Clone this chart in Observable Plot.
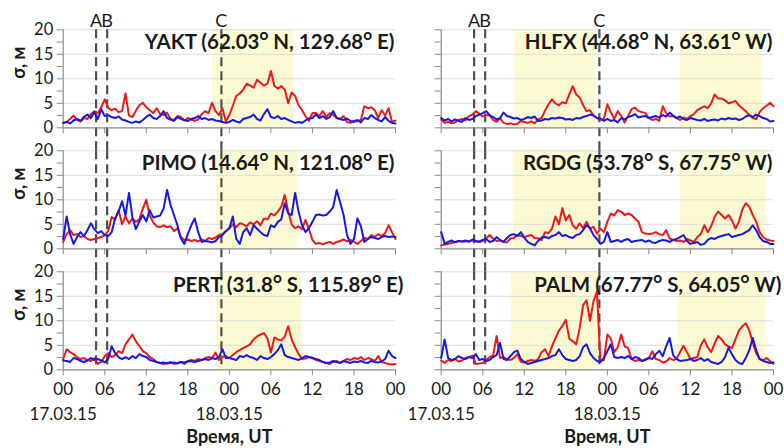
<!DOCTYPE html>
<html><head><meta charset="utf-8">
<script src="https://cdn.jsdelivr.net/npm/d3@7"></script>
<script src="https://cdn.jsdelivr.net/npm/@observablehq/plot@0.6"></script>
<style>
html,body{margin:0;padding:0;background:#fff;}
#chart{width:784px;height:448px;overflow:hidden;}
</style></head><body><div id="chart"></div>
<script>
// sampling grid, hours since 17.03.15 00 UT
const hours = d3.range(0, 48.001, 0.5);

const stations = ["YAKT", "HLFX", "PIMO", "RGDG", "PERT", "PALM"];
const titles = [
  "YAKT (62.03ᴼ N, 129.68ᴼ E)",
  "HLFX (44.68ᴼ N, 63.61ᴼ W)",
  "PIMO (14.64ᴼ N, 121.08ᴼ E)",
  "RGDG (53.78ᴼ S, 67.75ᴼ W)",
  "PERT (31.8ᴼ S, 115.89ᴼ E)",
  "PALM (67.77ᴼ S, 64.05ᴼ W)"
];

const yaktRed = [1.0,1.2,1.8,2.5,1.6,1.3,2.0,1.8,2.8,3.4, 3.0,4.2,5.8,4.0,3.6,3.9,3.2,3.4,7.0,2.5, 2.2,3.5,4.6,5.1,4.2,3.6,3.0,4.0,2.8,2.6, 3.1,1.8,1.6,2.4,2.2,1.5,2.0,1.7,1.4,1.7, 2.8,3.4,3.0,5.1,3.4,2.6,4.0,1.3,2.6,4.5, 6.5,7.0,7.8,9.0,8.6,8.2,9.8,9.2,8.6,9.0, 11.6,8.6,8.0,8.5,7.8,5.0,7.2,6.5,4.6,3.6, 2.4,1.4,3.0,3.0,2.4,3.4,2.2,3.0,2.6,2.0, 1.8,2.4,1.2,1.0,1.5,1.3,1.6,4.4,4.0,4.2, 3.6,2.0,3.6,2.5,4.0,1.2,1.5];
const yaktBlue = [1.0,1.2,0.9,1.5,1.8,1.4,2.2,2.7,2.0,3.2, 1.8,3.8,2.4,2.6,2.2,2.0,2.3,1.7,1.5,1.2, 1.0,1.3,1.1,1.6,2.2,2.7,2.0,1.8,2.4,3.4, 2.0,1.7,1.4,2.2,1.8,1.6,1.4,1.8,2.0,2.4, 1.8,2.0,1.6,1.8,1.5,1.4,1.2,1.0,1.2,1.6, 1.3,1.1,1.8,2.0,2.2,2.7,1.8,1.5,2.8,3.8, 2.2,2.0,2.4,1.8,2.0,1.6,1.3,1.0,1.2,1.0, 1.5,1.9,2.0,2.7,2.0,2.4,1.8,2.2,3.4,2.0, 1.8,1.6,1.9,1.4,1.2,1.6,1.1,2.0,1.8,2.6, 2.0,1.6,1.3,2.2,1.4,1.0,0.9];
const hlfxRed = [1.7,1.0,1.2,0.9,1.1,1.6,1.8,1.5,2.4,2.7, 3.4,2.9,2.3,2.6,2.5,1.6,1.2,2.0,1.0,0.8, 0.9,0.7,0.8,1.4,1.2,1.0,1.3,0.9,1.7,2.0, 3.5,4.8,5.8,5.0,4.6,5.2,5.0,6.8,8.5,6.8, 6.2,4.6,3.4,3.6,2.5,2.0,1.6,1.8,4.8,3.2, 1.8,3.4,2.4,1.1,2.4,3.8,4.1,3.4,3.2,3.0, 2.0,1.6,1.8,1.4,4.4,3.0,2.3,2.4,2.0,1.6, 2.1,1.8,2.4,2.8,3.6,4.0,4.4,4.0,5.0,6.8, 6.0,6.0,5.6,5.0,5.2,5.5,4.6,4.0,3.4,2.6, 2.0,1.8,3.2,4.0,4.5,5.1,4.4];
const hlfxBlue = [2.0,1.5,1.8,1.3,1.7,1.4,1.2,2.0,1.6,1.8, 2.4,2.7,3.0,3.4,2.6,2.2,1.7,2.0,3.1,2.4, 2.2,1.9,2.0,1.6,1.8,2.2,2.0,2.3,1.4,1.5, 1.8,1.7,2.0,1.9,2.1,2.0,1.7,1.8,1.6,2.0, 1.9,2.2,2.4,2.7,2.5,2.0,1.9,1.4,1.8,1.4, 1.6,1.1,2.0,1.7,2.2,2.4,2.8,2.1,2.3,2.4, 2.0,2.2,2.4,2.1,2.6,2.3,3.1,2.5,2.0,2.3, 1.8,1.6,2.0,1.8,1.6,1.5,1.8,1.4,1.6,1.7, 1.5,1.9,1.7,2.0,1.8,1.9,1.6,1.8,2.3,2.6, 2.2,2.7,2.4,2.0,1.8,1.3,1.4];
const pimoRed = [1.4,3.0,3.8,2.8,3.0,2.4,2.6,2.0,1.8,2.0, 2.2,2.4,2.8,3.6,6.5,6.0,7.9,5.0,6.6,5.2, 6.2,5.5,6.0,8.2,10.0,6.8,5.4,4.6,4.4,4.8, 4.4,4.6,3.6,4.2,2.4,1.8,1.9,1.6,1.8,1.5, 1.9,1.6,2.2,2.0,2.3,2.8,3.0,3.6,4.2,5.0, 4.4,5.2,5.0,4.6,5.4,5.0,5.6,4.8,6.2,6.0, 7.2,6.8,7.6,8.6,11.0,7.6,5.0,4.2,4.6,4.0, 5.9,4.0,1.8,1.0,1.2,0.9,1.2,1.4,1.0,1.4, 1.6,1.9,1.5,1.8,1.4,1.0,1.6,2.2,2.0,2.8, 2.4,3.0,2.6,3.2,4.8,3.4,2.0];
const pimoBlue = [2.0,6.6,3.0,1.0,2.4,3.4,2.6,3.8,5.2,4.0, 3.2,3.6,2.8,2.6,3.4,6.2,7.6,9.7,6.8,11.4, 6.4,4.0,5.6,6.9,5.6,7.9,6.4,6.6,6.8,8.2, 12.0,9.0,6.9,4.8,2.1,1.0,3.0,4.8,6.2,3.4, 1.4,1.6,1.5,1.3,1.6,2.4,2.8,3.6,4.2,6.6, 2.0,1.0,3.4,4.2,2.8,4.8,4.1,3.4,2.8,2.6, 4.8,4.4,5.5,6.0,9.3,7.2,6.9,11.4,7.6,4.8, 3.4,4.2,5.5,6.9,7.0,6.8,6.9,7.6,8.5,12.0, 9.5,6.9,2.8,1.0,2.0,6.2,4.6,1.4,2.0,2.4, 2.2,2.0,2.4,2.6,2.4,2.5,2.4];
const rgdgRed = [0.7,0.9,1.0,1.2,1.4,1.6,1.5,1.5,1.6,1.7, 1.5,1.4,1.6,2.1,2.8,2.1,1.6,1.7,1.4,1.3, 2.1,2.2,2.8,2.6,2.4,2.6,2.8,2.2,2.1,1.8, 3.4,3.2,4.1,6.6,5.0,8.3,5.8,6.9,4.8,4.1, 5.2,4.2,5.5,4.1,4.5,3.1,4.1,3.4,5.5,7.2, 6.8,7.9,7.6,6.9,7.2,6.9,6.2,5.5,3.4,3.1, 3.0,3.1,3.4,3.0,2.8,3.8,2.1,1.8,1.6,1.7, 1.4,2.0,1.7,1.4,2.4,3.0,4.8,3.4,4.6,6.5, 7.6,6.9,6.2,6.9,5.8,4.1,5.5,8.0,9.3,8.6, 6.9,5.5,3.4,2.4,1.9,1.7,1.6];
const rgdgBlue = [3.4,1.0,1.4,1.7,1.3,1.6,1.5,1.7,1.4,1.9, 1.6,1.5,1.8,2.0,1.4,1.6,2.4,1.8,1.4,2.2, 2.8,3.0,2.6,3.4,2.3,1.4,1.0,0.7,1.6,2.3, 2.4,2.2,2.6,2.8,3.4,2.6,2.8,2.4,2.2,2.8, 3.0,3.8,4.8,4.2,2.8,2.0,1.0,1.4,3.4,1.4, 1.6,1.8,1.4,1.8,2.0,1.4,1.6,1.7,1.8,1.4, 1.7,1.3,1.2,1.6,1.8,1.7,1.4,1.8,2.0,2.4, 2.8,1.6,1.0,1.2,1.4,0.8,1.0,1.8,2.2,2.0, 2.4,2.6,2.8,3.0,2.4,2.6,2.8,3.0,3.4,3.8, 4.8,3.8,2.4,1.6,1.4,1.0,1.0];
const pertRed = [2.2,4.2,3.6,3.2,2.6,2.2,2.4,2.0,1.8,2.4, 1.2,1.6,2.8,3.4,2.6,3.0,3.8,3.4,5.2,6.2, 7.2,5.8,4.8,3.8,3.4,2.6,2.2,1.6,1.4,1.2, 1.4,1.6,1.2,1.4,1.6,1.2,1.8,2.0,1.8,2.2, 2.0,2.4,2.6,2.4,3.5,2.0,2.6,2.8,2.4,3.0, 3.6,4.0,4.4,4.8,5.2,6.2,6.8,7.2,7.5,6.4, 3.5,6.6,6.2,6.0,6.8,8.9,6.2,4.6,3.2,2.2, 2.3,2.6,2.4,2.0,1.8,1.6,1.4,1.2,1.6,1.8, 1.4,1.8,2.2,2.0,2.4,2.2,2.6,2.0,2.4,2.2, 1.8,2.8,1.6,1.4,1.2,1.1,1.2];
const pertBlue = [1.9,1.8,1.6,2.4,2.2,1.8,1.6,1.9,2.4,2.0, 2.2,1.9,1.5,2.2,4.8,3.4,2.6,2.2,2.6,2.2, 2.8,2.4,3.2,2.8,2.6,2.0,1.8,1.6,1.4,1.5, 1.3,1.4,1.5,1.3,1.6,1.5,1.7,1.8,1.6,1.8, 2.0,2.2,2.0,2.4,2.2,2.6,4.2,2.4,2.4,2.2, 2.0,2.8,2.6,3.0,2.6,2.4,2.0,2.8,2.4,2.2, 2.6,3.2,4.0,5.2,3.0,2.6,2.4,2.2,2.0,2.4, 2.8,2.6,2.4,2.2,2.0,1.6,1.4,1.5,1.8,1.6, 1.4,1.8,1.6,1.4,1.7,1.6,1.8,1.5,1.4,1.8, 1.6,1.5,1.7,2.2,3.9,2.8,2.4];
const palmRed = [1.9,1.4,2.0,1.8,2.2,1.7,1.9,2.4,2.6,2.9, 1.2,1.3,1.4,2.0,2.6,2.9,6.9,2.4,2.6,2.2, 2.0,2.4,3.2,1.6,1.5,1.8,2.0,1.8,2.2,3.6, 4.2,2.8,4.8,6.4,8.0,8.9,10.2,6.4,5.8,5.2, 8.5,13.2,14.2,10.0,14.0,15.9,1.8,2.0,7.2,6.4, 3.6,4.6,7.2,4.8,4.4,2.2,1.8,2.0,1.8,2.2, 2.4,3.8,2.2,2.0,1.5,1.7,2.4,2.0,2.2,3.6, 4.9,3.6,2.2,2.4,2.6,5.0,6.2,4.6,3.6,5.4, 6.9,6.2,5.2,4.8,4.4,6.2,8.0,8.9,9.5,8.0, 5.6,3.4,2.2,2.0,2.4,1.8,1.2];
const palmBlue = [2.4,6.2,2.4,2.0,2.2,2.8,2.4,2.2,2.6,2.4, 3.2,2.0,2.2,1.8,2.0,2.6,3.0,5.5,2.2,2.0, 2.8,3.6,3.9,2.2,1.6,1.2,1.4,1.6,1.8,2.0, 2.2,2.4,2.8,3.0,4.2,3.0,2.2,2.0,1.8,2.0, 2.8,4.6,5.2,3.4,2.4,1.8,1.6,2.4,3.8,5.2, 2.6,2.4,2.6,2.4,2.8,2.2,2.6,2.4,1.8,2.0, 2.4,2.2,3.2,3.9,2.8,4.8,6.5,3.0,2.2,1.8, 1.9,2.0,2.2,1.8,2.0,2.4,1.8,2.2,1.6,1.4, 1.2,1.6,2.6,4.5,3.2,2.0,1.4,1.2,2.4,4.0, 6.5,4.0,2.2,1.8,1.6,1.4,1.5];

// shaded (daytime) intervals, hours
const shadeStation = ["YAKT", "HLFX", "HLFX", "PIMO", "RGDG", "RGDG", "PERT", "PALM", "PALM"];
const shadeStart   = [21.6, 10.6, 34.5, 22.1, 10.4, 34.5, 22.1, 10.1, 34.2];
const shadeEnd     = [33.3, 22.3, 46.4, 34.0, 23.0, 47.0, 34.4, 22.7, 46.9];

// event markers
const eventLabels = ["A", "B", "C"];
const eventHours = [4.75, 6.35, 22.85];

// axes
const yMajorTicks = [0, 5, 10, 15, 20];
const yMinorTicks = [0, 2.5, 5, 7.5, 10, 12.5, 15, 17.5, 20];
const yGrid = [5, 10, 15, 20];
const xTicks = [0, 6, 12, 18, 24, 30, 36, 42, 48];
const xTickLabels = ["00", "06", "12", "18", "00", "06", "12", "18", "00"];
const dateHours = [0, 24];
const dateLabels = ["17.03.15", "18.03.15"];
const yLabel = "σ, м";
const xLabel = "Время, UT";

// ---- build tables ----
const redSeries = [yaktRed, hlfxRed, pimoRed, rgdgRed, pertRed, palmRed];
const blueSeries = [yaktBlue, hlfxBlue, pimoBlue, rgdgBlue, pertBlue, palmBlue];
const panels = stations.map((s, i) => ({station: s, title: titles[i], col: i % 2, row: Math.floor(i / 2)}));
const panelOf = Object.fromEntries(panels.map(p => [p.station, p]));

const redData = [], blueData = [];
panels.forEach((p, i) => {
  redSeries[i].forEach((v, k) => redData.push({col: p.col, row: p.row, hour: hours[k], value: v}));
  blueSeries[i].forEach((v, k) => blueData.push({col: p.col, row: p.row, hour: hours[k], value: v}));
});
const shades = shadeStation.map((s, i) => ({col: panelOf[s].col, row: panelOf[s].row, start: shadeStart[i], end: shadeEnd[i]}));
const events = [];
panels.forEach(p => eventHours.forEach((h, i) => events.push({col: p.col, row: p.row, hour: h, label: eventLabels[i]})));
const bottomCols = [0, 1].map(c => ({col: c, row: 2}));
const dates = [];
bottomCols.forEach(b => dateHours.forEach((h, i) => dates.push({col: b.col, row: b.row, hour: h, label: dateLabels[i]})));

const axisGray = "#8a8a8a";
const chart = Plot.plot({
  width: 784, height: 448,
  marginLeft: 62.7, marginRight: 11, marginTop: 29.3, marginBottom: 78.7,
  facet: {marginTop: 0, marginRight: 0, marginBottom: 0, marginLeft: 0},
  fx: {domain: [0, 1], paddingInner: 0.1209, paddingOuter: 0, axis: null, round: false, label: null},
  fy: {domain: [0, 1, 2], paddingInner: 0.19, paddingOuter: 0, axis: null, round: false, label: null},
  x: {domain: [0, 48]},
  y: {domain: [0, 20]},
  style: {fontFamily: "Lato, 'Open Sans', 'DejaVu Sans', sans-serif", fontSize: "16px", color: "#1a1a1a", background: "#fff"},
  marks: [
    Plot.rect(shades, {x1: "start", x2: "end", fx: "col", fy: "row", fill: "#fcfad3"}),
    Plot.gridY(yGrid, {stroke: "#dcdcdc", strokeOpacity: 1, strokeWidth: 1}),
    Plot.ruleX(events.filter(d => d.row < 2), {x: "hour", fx: "col", fy: "row", stroke: "#505050", strokeWidth: 2.2, strokeDasharray: "9,5", insetBottom: -23}),
    Plot.ruleX(events.filter(d => d.row === 2), {x: "hour", fx: "col", fy: "row", stroke: "#505050", strokeWidth: 2.2, strokeDasharray: "9,5"}),
    Plot.ruleX([0], {stroke: axisGray, strokeWidth: 1.2}),
    Plot.ruleY([0], {stroke: axisGray, strokeWidth: 1.2}),
    Plot.axisY(yMinorTicks, {tickSize: 6, tickFormat: () => "", stroke: axisGray, facetAnchor: null, label: null}),
    Plot.axisY(yMajorTicks, {tickSize: 0, tickPadding: 10, fontSize: 16.5, fill: "#1a1a1a", facetAnchor: "left", label: null}),
    Plot.axisX(xTicks, {tickSize: 6, tickFormat: () => "", stroke: axisGray, facetAnchor: null, label: null}),
    Plot.axisX(xTicks, {tickSize: 0, tickPadding: 13, tickFormat: d => xTickLabels[xTicks.indexOf(d)], fontSize: 17, fill: "#1a1a1a", facetAnchor: "bottom", label: null}),
    Plot.line(redData, {x: "hour", y: "value", fx: "col", fy: "row", stroke: "#ee1818", strokeWidth: 2}),
    Plot.line(blueData, {x: "hour", y: "value", fx: "col", fy: "row", stroke: "#1818e6", strokeWidth: 2}),
    Plot.text(events.filter(d => d.row === 0), {x: "hour", text: "label", fx: "col", fy: "row", frameAnchor: "top", lineAnchor: "bottom", dy: -3, fontSize: 18, fill: "#1a1a1a"}),
    Plot.text(panels.filter(p => p.row < 2), {text: "title", fx: "col", fy: "row", frameAnchor: "top-right", textAnchor: "end", lineAnchor: "bottom", dy: 19, dx: -1, fontSize: 20.5, fontWeight: "bold", fill: "#1a1a1a"}),
    Plot.text(panels.filter(p => p.row === 2), {text: "title", fx: "col", fy: "row", frameAnchor: "top-right", textAnchor: "end", lineAnchor: "bottom", dy: 20, dx: 8, fontSize: 20.5, fontWeight: "bold", fill: "#1a1a1a"}),
    Plot.text(panels.filter(p => p.col === 0), {text: () => yLabel, fx: "col", fy: "row", frameAnchor: "left", rotate: -90, dx: -44, fontSize: 18, fontWeight: "bold", fill: "#1a1a1a"}),
    Plot.text(dates, {x: "hour", text: "label", fx: "col", fy: "row", frameAnchor: "bottom", lineAnchor: "middle", dy: 44.7, fontSize: 17, fill: "#1a1a1a"}),
    Plot.text(bottomCols, {x: () => 24, text: () => xLabel, fx: "col", fy: "row", frameAnchor: "bottom", lineAnchor: "middle", dy: 67.4, fontSize: 18, fontWeight: "bold", fill: "#1a1a1a"})
  ]
});
document.getElementById("chart").appendChild(chart);
</script>
</body></html>
